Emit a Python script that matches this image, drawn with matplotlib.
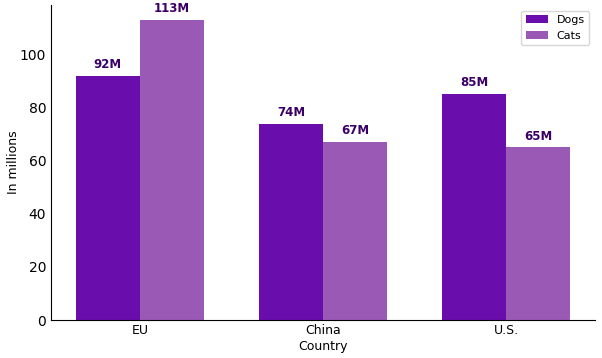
import matplotlib
matplotlib.use("Agg")
import matplotlib.pyplot as plt
import numpy as np

countries = ["EU", "China", "U.S."]
dogs = [92, 74, 85]
cats = [113, 67, 65]
series_names = ["Dogs", "Cats"]
colors = ["#6a0dad", "#9b59b6"]

fig = plt.figure(figsize=(6.02, 3.58), dpi=100)
ax = fig.add_axes([0.085, 0.106, 0.903, 0.88])
x = np.arange(len(countries))
w = 0.35
b1 = ax.bar(x - w/2, dogs, w, color=colors[0], label=series_names[0])
b2 = ax.bar(x + w/2, cats, w, color=colors[1], label=series_names[1])
for bars, vals in ((b1, dogs), (b2, cats)):
    for r, v in zip(bars, vals):
        ax.annotate(f"{v}M", (r.get_x() + r.get_width()/2, v), xytext=(0, 3.5),
                    textcoords="offset points", ha="center", va="bottom",
                    fontsize=8.5, fontweight="bold", color="#3b0066")
ax.set_xticks(x)
ax.set_xticklabels(countries)
ax.set_xlabel("Country", fontsize=9, labelpad=2)
ax.set_ylabel("In millions", fontsize=9, labelpad=0)
ax.tick_params(length=0, labelsize=10)
ax.tick_params(axis="x", labelsize=9, pad=3)
for s in ("top", "right"):
    ax.spines[s].set_visible(False)
ax.legend(loc="upper right", fontsize=8)
fig.savefig("out.png", dpi=100)
